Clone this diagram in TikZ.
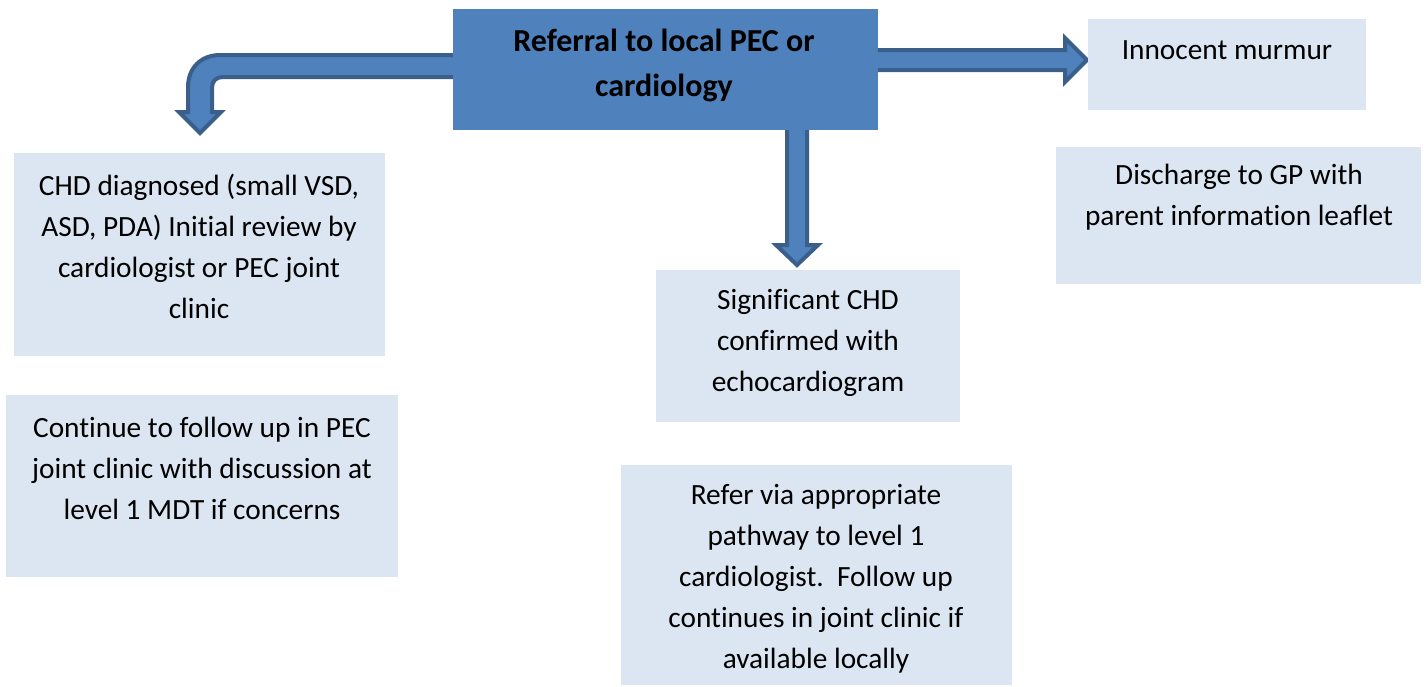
\documentclass[tikz,border=0pt]{standalone}
\usepackage{fontspec}
\setmainfont{Carlito}[Ligatures=NoCommon]
\pgfdeclarelayer{bg}
\pgfsetlayers{bg,main}
\definecolor{mainblue}{HTML}{4F81BD}
\definecolor{darkblue}{HTML}{3A5F8B}
\definecolor{lightbox}{HTML}{DCE6F2}
\begin{document}
\begin{tikzpicture}[x=0.75pt,y=-0.75pt,
  txt/.style={align=center,inner sep=0pt,font=\fontsize{22}{30.75}\selectfont},
  blockarrow/.style={fill=mainblue,draw=darkblue,line width=3pt,line join=miter}]
\useasboundingbox (0,0) rectangle (1427,686);
% boxes
\path[fill=mainblue] (453,9) rectangle (878,130);
\node[txt,font=\bfseries\fontsize{24}{33.75}\selectfont] (maint) at (664,65.5) {Referral to local PEC or\\cardiology};
\fill[lightbox] (1088,19) rectangle (1366,110);
\node[txt] (innocent) at (1227,50) {Innocent murmur};
\fill[lightbox] (1056,147) rectangle (1421,284);
\node[txt] (discharge) at (1239,197.5) {Discharge to GP with\\parent information leaflet};
\fill[lightbox] (14,153) rectangle (385,356);
\node[txt] (chd) at (199,246.5) {CHD diagnosed (small VSD,\\ASD, PDA) Initial review by\\cardiologist or PEC joint\\clinic};
\fill[lightbox] (6,395) rectangle (398,577);
\node[txt] (continue) at (202,468) {Continue to follow up in PEC\\joint clinic with discussion at\\level 1 MDT if concerns};
\fill[lightbox] (656,270) rectangle (960,422);
\node[txt] (signif) at (808,343) {Significant CHD\\confirmed with\\echocardiogram};
\fill[lightbox] (621,465) rectangle (1012,685);
\node[txt] (refer) at (816,579) {Refer via appropriate\\pathway to level 1\\cardiologist.\ \ Follow up\\continues in joint clinic if\\available locally};
% arrows behind main box
\begin{pgfonlayer}{bg}
\draw[blockarrow] (455,55) -- (220,55) .. controls (201,55) and (188,68) .. (188,87)
  -- (188,112) -- (179,112) -- (200,133) -- (221,112) -- (212,112) -- (212,88)
  .. controls (212,81) and (216,77) .. (223,77) -- (455,77) -- cycle;
\draw[blockarrow] (873,50) -- (1065,50) -- (1065,38) -- (1087,60) -- (1065,82) -- (1065,70) -- (873,70) -- cycle;
\draw[blockarrow] (787,125) -- (787,245) -- (776,245) -- (797,265) -- (818,245) -- (807,245) -- (807,125) -- cycle;
\end{pgfonlayer}
\end{tikzpicture}
\end{document}
